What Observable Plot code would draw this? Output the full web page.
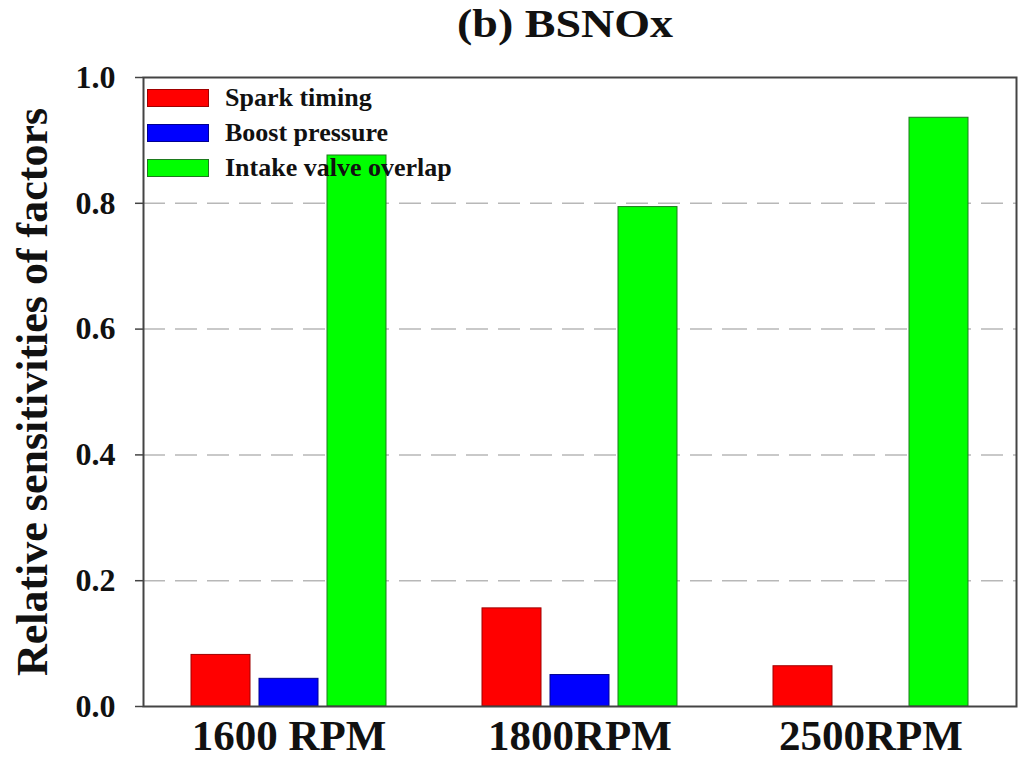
<!DOCTYPE html>
<html><head><meta charset="utf-8">
<script src="https://cdn.jsdelivr.net/npm/d3@7"></script>
<script src="https://cdn.jsdelivr.net/npm/@observablehq/plot@0.6"></script>
<style>
body{margin:0;background:#fff;font-family:"Liberation Serif","Times New Roman",serif;font-weight:bold;color:#111;}
#wrap{position:relative;width:1019px;height:761px;overflow:hidden;}
#title{position:relative;width:1019px;height:60px;}
#title span{position:absolute;left:565px;top:4px;font-size:40px;line-height:40px;white-space:nowrap;transform:translateX(-50%) scaleX(1.15);}
.row{position:absolute;left:147px;height:18px;display:flex;align-items:center;}
.sw{width:60px;height:16px;margin-right:16px;}
.lt{font-size:26px;line-height:18px;white-space:nowrap;}
</style></head><body>
<div id="wrap"><div id="title"><span>(b) BSNOx</span></div><div id="chart"></div><div id="legend"></div></div>
<script>
const rpm = ["1600 RPM", "1800RPM", "2500RPM"];
const factors = ["Spark timing", "Boost pressure", "Intake valve overlap"];
const colors = ["#ff0000", "#0000ff", "#00ff00"];
const outlines = ["#a00000", "#000090", "#1d7a1d"];
const spark = [0.082, 0.156, 0.064];
const boost = [0.044, 0.050, 0.0];
const intake = [0.876, 0.794, 0.936];
const yTicks = [0, 0.2, 0.4, 0.6, 0.8, 1.0];
const gridTicks = [0.2, 0.4, 0.6, 0.8];

const series = [spark, boost, intake];
const data = [];
rpm.forEach((r, i) => factors.forEach((f, j) => data.push({rpm: r, factor: f, value: series[j][i]})));

const chart = Plot.plot({
  width: 1019, height: 701,
  marginLeft: 143, marginRight: 3, marginTop: 17, marginBottom: 55,
  style: {fontFamily: "'Liberation Serif','Times New Roman',serif", fontWeight: "bold", color: "#111", background: "#fff", overflow: "visible"},
  fx: {domain: rpm, paddingInner: 0, paddingOuter: 0, label: null},
  x: {domain: factors, paddingInner: 0.13, paddingOuter: 0.7, axis: null},
  y: {domain: [0, 1]},
  color: {domain: factors, range: colors},
  marks: [
    Plot.gridY(gridTicks, {stroke: "#b8b8b8", strokeOpacity: 1, strokeWidth: 1.5, strokeDasharray: "22,10"}),
    Plot.barY(data, {fx: "rpm", x: "factor", y: "value", fill: "factor", stroke: d => outlines[factors.indexOf(d.factor)], strokeWidth: 1}),
    Plot.frame({facet: "super", stroke: "#444", strokeWidth: 2}),
    Plot.axisY(yTicks, {tickFormat: d3.format(".1f"), tickSize: 8, tickPadding: 20, fontSize: 32, label: "Relative sensitivities of factors", labelAnchor: "center", labelOffset: 128, labelArrow: "none", stroke: "#444", strokeWidth: 1.5}),
    Plot.axisFx({anchor: "bottom", tickSize: 0, tickPadding: 13, fontSize: 43, label: null})
  ]
});
document.getElementById("chart").appendChild(chart);
d3.select(chart).selectAll('g[aria-label="y-axis label"] text').style("font-size", "44px");

const legend = document.getElementById("legend");
factors.forEach((f, i) => {
  const row = document.createElement("div");
  row.className = "row";
  row.style.top = (89 + i * 35) + "px";
  const sw = document.createElement("div");
  sw.className = "sw";
  sw.style.background = colors[i];
  sw.style.border = "1px solid " + outlines[i];
  const t = document.createElement("div");
  t.className = "lt";
  t.textContent = f;
  row.appendChild(sw); row.appendChild(t);
  legend.appendChild(row);
});
</script>
</body></html>
